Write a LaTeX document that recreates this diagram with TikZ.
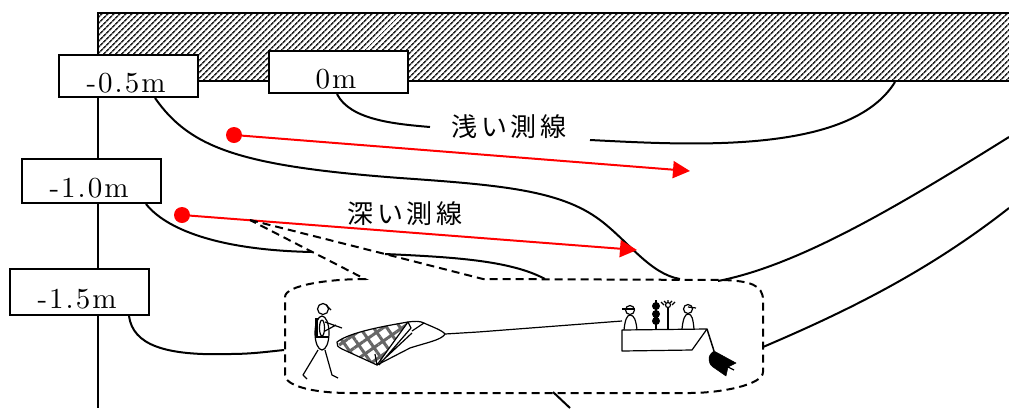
\documentclass[tikz,border=0pt]{standalone}
\usepackage{fontspec}
\usetikzlibrary{arrows.meta,patterns.meta}
\newfontfamily\cjk[LetterSpace=15]{Noto Sans CJK JP}
\newfontfamily\depthfont[Extension=.otf]{lmroman10-regular}
\definecolor{rr}{RGB}{255, 0, 0}
\tikzset{
  depthbox/.style={draw=black, fill=white, line width=2pt, minimum width=139pt, inner sep=0pt, font=\fontsize{29}{32}\depthfont},
  lineline/.style={line width=2pt, color=black},
  dashline/.style={line width=2pt, color=black, dash pattern=on 8pt off 5pt},
  redline/.style={line width=2pt, color=rr, -{Triangle[length=17pt,width=17pt]}},
  reddot/.style={circle, minimum size=16pt, inner sep=0pt, fill=rr},
  surveylabel/.style={inner sep=0pt, font=\fontsize{26}{30}\cjk},
  thinline/.style={line width=1.2pt, color=black, line join=round}
}
\newcommand{\lowtext}[1]{\raisebox{-16pt}[0pt][0pt]{#1\kern4pt}}
\begin{document}
\begin{tikzpicture}[x=1pt, y=-1pt]
\useasboundingbox (0,0) rectangle (1009,408);
\fill [pattern={Lines[angle=45,distance=4pt,line width=1.7pt]}, pattern color=black!85] (98,13) rectangle (1009,81);
\draw [lineline] (1009,13) -- (98,13) -- (98,408);
\draw [lineline] (98,81) -- (1009,81);
\node (depth05) [depthbox, minimum height=42pt] at (128,76) {\lowtext{-\kern2pt 0\kern2pt.\kern2pt 5\kern2pt m}};
\node (depth00) [depthbox, minimum height=42pt] at (338,72) {\lowtext{0\kern2pt m}};
\node (depth10) [depthbox, minimum height=44pt] at (91,181) {\lowtext{-\kern2pt 1\kern2pt.\kern2pt 0\kern2pt m}};
\node (depth15) [depthbox, minimum height=46pt] at (79,292) {\lowtext{-\kern2pt 1\kern2pt.\kern2pt 5\kern2pt m}};
\node (shallow) [surveylabel] at (509,127) {浅い測線};
\node (deep) [surveylabel] at (405,214) {深い測線};
\draw [lineline] ([xshift=-1pt]depth00.south) .. controls (350,120) and (395,124) .. (430,127);
\draw [lineline] (590,140) .. controls (690,145) and (850,155) .. (895,82);
\draw [lineline] ([xshift=27pt]depth05.south) .. controls (190,148) and (240,166) .. (400,178) .. controls (500,185) and (560,190) .. (600,220) .. controls (628,241) and (650,274) .. (680,279);
\draw [lineline] (718,281) .. controls (800,265) and (900,205) .. (1009,137);
\draw [lineline] ([xshift=55pt]depth10.south) .. controls (165,228) and (215,250) .. (312,252);
\draw [lineline] (385,254) .. controls (450,257) and (510,260) .. (545,279);
\draw [lineline] (763,347) .. controls (850,310) and (930,270) .. (1009,208);
\draw [lineline] ([xshift=50pt]depth15.south) .. controls (133,345) and (165,356) .. (230,354) .. controls (250,354) and (265,352) .. (284,350);
\draw [lineline] (553,392) -- (570,408);
\node (dot1) [reddot] at (234,135) {};
\node (dot2) [reddot] at (182,215) {};
\coordinate (end1) at (690,171);
\coordinate (end2) at (637,250);
\draw [redline] (dot1) to (end1);
\draw [redline] (dot2) to (end2);
\draw [dashline] (250,220) -- (385,254) -- (483,279) -- (723,280) .. controls (750,281) and (763,285) .. (763,300) -- (763,372) .. controls (763,385) and (720,393) .. (690,393) -- (350,393) .. controls (310,393) and (285,385) .. (285,375) -- (285,297) .. controls (285,285) and (330,279) .. (365,279) -- cycle;
\draw [thinline] (323,309) circle [radius=5.5];
\draw [thinline] (326,305) -- (331,310);
\draw [thinline] (322,333) ellipse [x radius=7, y radius=17];
\draw [thinline] (322,328) ellipse [x radius=2.5, y radius=8];
\draw [thinline] (317,318) -- (317,338) (315.5,318) -- (315.5,336);
\draw [thinline] (315,337) -- (329,337);
\draw [thinline] (325,322) -- (342,328) (325,331) -- (336,325);
\draw [thinline] (318,350) -- (303,375) -- (307,379);
\draw [thinline] (325,350) -- (332,375) -- (338,378);
\fill [pattern={Hatch[angle=35,distance=11pt,line width=3pt]}, pattern color=black!60] (337,342) .. controls (350,332) and (385,326) .. (408,322) -- (377,365) -- (342,349) -- cycle;
\draw [thinline] (337,342) .. controls (350,332) and (385,326) .. (408,322) .. controls (415,321) and (420,321) .. (424,323) .. controls (430,326) and (442,330) .. (445,334) .. controls (442,340) and (425,343) .. (410,348) -- (377,365) -- (342,349) .. controls (338,347) and (336,345) .. (337,342) -- cycle;
\draw [thinline] (377,365) -- (408,322) -- (411,328) -- (379,365) (381,362) -- (412,333) (424,323) -- (412,331) (377,365) -- (375,354);
\draw [thinline] (445,334) -- (478,332) -- (622,321);
\draw [thinline] (622,330) -- (707,329) -- (692,350) -- (622,351) -- cycle;
\draw [thinline] (630,310) circle [radius=4.5];
\draw [thinline] (622,309) -- (635,309);
\draw [thinline] (624,330) .. controls (625,320) and (627,315) .. (630,315) .. controls (634,315) and (636,320) .. (637,330);
\draw [thinline] (688,309) circle [radius=4.5];
\draw [thinline] (688,307) -- (696,308);
\draw [thinline] (682,329) .. controls (683,319) and (685,314) .. (688,314) .. controls (692,314) and (693,319) .. (694,329);
\draw [line width=1.5pt] (656,300) -- (656,330);
\fill (656,306) circle [radius=4] (656,314) circle [radius=4] (656,321) circle [radius=4];
\draw [line width=1.5pt] (668,308) -- (668,330);
\draw [line width=1.2pt] (668,305) circle [radius=2.5];
\draw [line width=1.2pt] (661,302) -- (664,305) (664,301) -- (666,303) (668,300) -- (668,302) (672,301) -- (670,303) (675,302) -- (672,305);
\draw [line width=1.5pt] (707,329) -- (714,351);
\fill [line join=round, draw=black, line width=0.5pt] (714,351) .. controls (711,353) and (709,356) .. (709,358) .. controls (709,362) and (710,365) .. (713,367) -- (726,376) -- (728,367) -- (736,363) -- cycle;
\draw [line width=1.2pt] (728,367) -- (734,370);
\end{tikzpicture}
\end{document}
